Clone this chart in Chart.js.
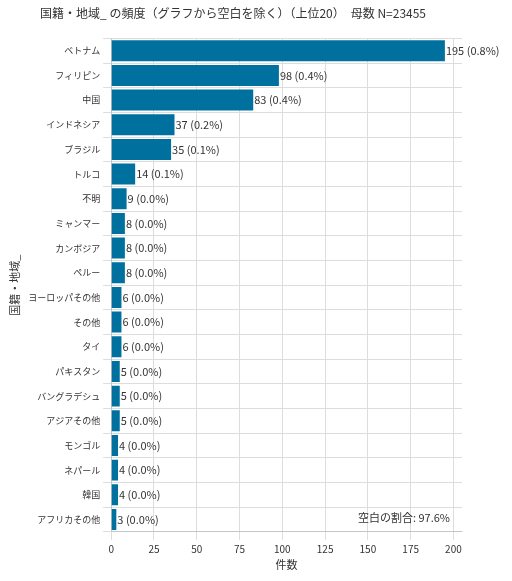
<!DOCTYPE html>
<html><head><meta charset="utf-8">
<script src="https://cdn.jsdelivr.net/npm/chart.js@4"></script>
<style>body{margin:0;background:#fff}#w{width:512px;height:581px}</style>
</head><body><div id="w"><canvas id="c"></canvas></div>
<script>
const categories=["ベトナム","フィリピン","中国","インドネシア","ブラジル","トルコ","不明","ミャンマー","カンボジア","ペルー","ヨーロッパその他","その他","タイ","パキスタン","バングラデシュ","アジアその他","モンゴル","ネパール","韓国","アフリカその他"];
const counts=[195,98,83,37,35,14,9,8,8,8,6,6,6,5,5,5,4,4,4,3];
const pcts=["0.8%","0.4%","0.4%","0.2%","0.1%","0.1%","0.0%","0.0%","0.0%","0.0%","0.0%","0.0%","0.0%","0.0%","0.0%","0.0%","0.0%","0.0%","0.0%","0.0%"];
const xTicks=[0,25,50,75,100,125,150,175,200];
const F="'Noto Sans CJK JP','Noto Sans',sans-serif";
const labels={id:'lbl',afterDatasetsDraw(ch){const c=ch.ctx;const m=ch.getDatasetMeta(0);c.save();c.font="11px "+F;c.fillStyle="#333";c.textBaseline="middle";m.data.forEach((b,i)=>{c.fillText(counts[i]+" ("+pcts[i]+")",b.x+1,b.y);});
const a=ch.chartArea;c.textAlign="right";c.font="11px "+F;c.fillText("空白の割合: 97.6%",a.right-12,a.bottom-14);c.restore();}};
new Chart(document.getElementById('c'),{type:'bar',data:{labels:categories,datasets:[{data:counts,backgroundColor:'#00719f',barPercentage:0.85,categoryPercentage:1}]},
options:{indexAxis:'y',responsive:true,maintainAspectRatio:false,animation:false,
layout:{padding:{right:50,left:4,bottom:10}},
plugins:{legend:{display:false},tooltip:{enabled:false},title:{display:true,text:"国籍・地域_ の頻度（グラフから空白を除く）（上位20）　母数 N=23455",font:{family:F,size:12,weight:'normal'},color:'#333',padding:{top:6,bottom:18}}},
scales:{x:{min:0,max:205,afterBuildTicks(s){s.ticks=xTicks.map(v=>({value:v}));},ticks:{font:{family:F,size:10},color:'#333'},grid:{color:'#ddd'},title:{display:true,text:'件数',font:{family:F,size:11},color:'#333',padding:0}},
y:{ticks:{font:{family:F,size:9},color:'#333'},grid:{color:'#ddd'},title:{display:true,text:'国籍・地域_',font:{family:F,size:11},color:'#333'}}}},plugins:[labels]});
</script></body></html>
